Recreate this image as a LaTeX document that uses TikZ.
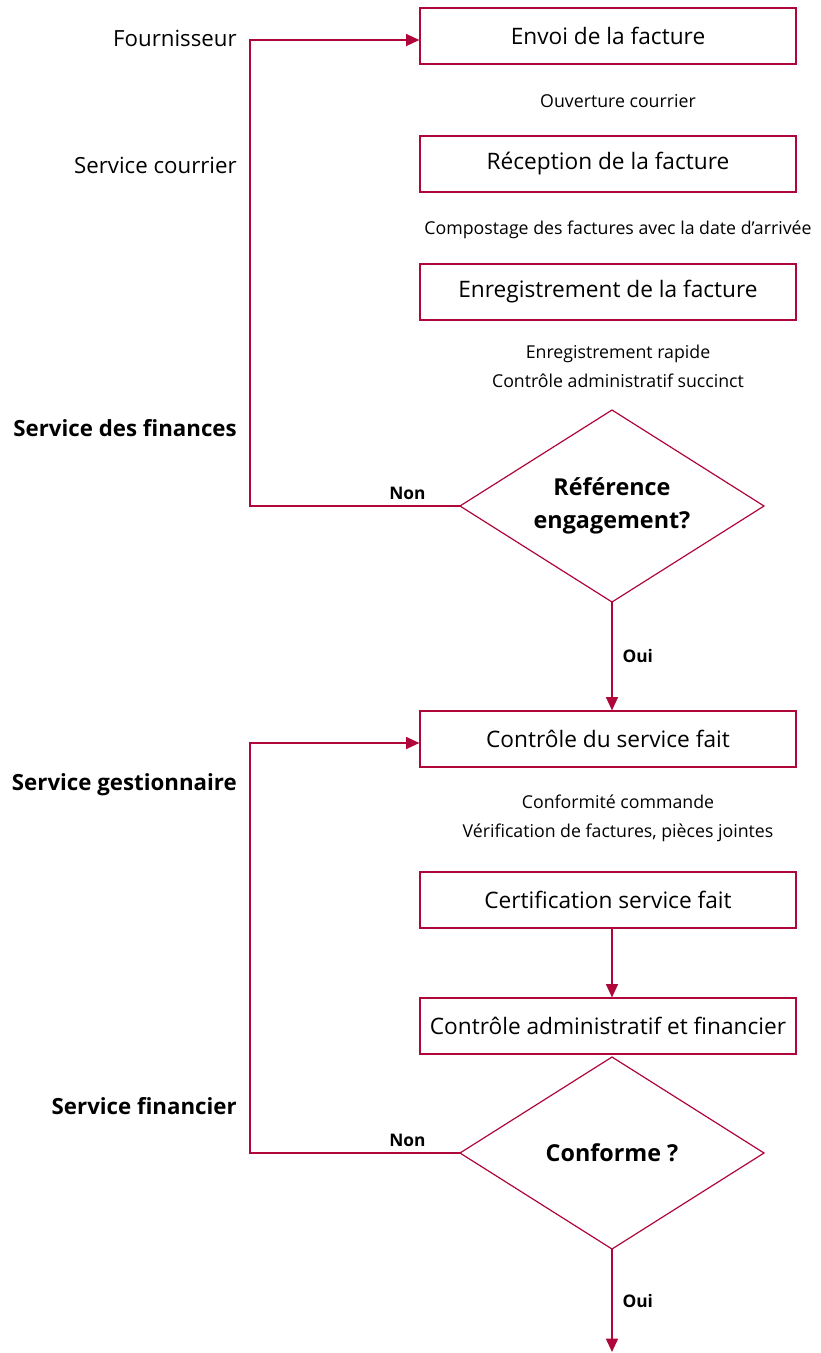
\documentclass[tikz,border=0pt]{standalone}
\usepackage{fontspec}
\setmainfont{Open Sans}
\usetikzlibrary{shapes.geometric,arrows.meta}
\definecolor{rouge}{HTML}{B0073A}

\begin{document}
\begin{tikzpicture}[x=0.75pt,y=-0.75pt,>={Triangle[length=10pt,width=9pt]},
  etape/.style={draw=rouge,line width=0.9pt,minimum width=282pt,minimum height=42pt,inner sep=0pt,font=\fontsize{17}{20}\selectfont},
  choix/.style={diamond,draw=rouge,line width=0.9pt,minimum width=228pt,minimum height=144pt,aspect=1.58,inner sep=0pt,outer sep=0pt,align=center,font=\fontsize{17.5}{25}\selectfont\bfseries},
  note/.style={font=\fontsize{13.3}{21.75}\selectfont,align=center},
  acteur/.style={anchor=east,inner sep=0pt,font=\fontsize{16.7}{20}\selectfont},
  lien/.style={draw=rouge,line width=1.1pt},
  rep/.style={font=\fontsize{13}{15}\selectfont\bfseries}]
  \useasboundingbox (0,0) rectangle (821,1353);
  % acteurs
  \node[acteur] (fourn) at (237,38) {Fournisseur};
  \node[acteur] (courrier) at (237,165) {Service courrier};
  \node[acteur,font=\fontsize{16.7}{20}\selectfont\bfseries] (finances) at (237,428) {Service des finances};
  \node[acteur,font=\fontsize{16.7}{20}\selectfont\bfseries] (gest) at (237,785) {Service gestionnaire};
  \node[acteur,font=\fontsize{16.7}{20}\selectfont\bfseries] (financier) at (237,1106) {Service financier};
  % etapes
  \node[etape] (envoi) at (608,36) {Envoi de la facture};
  \node[note] (n1) at (618,101) {Ouverture courrier};
  \node[etape] (recep) at (608,164) {Réception de la facture};
  \node[note] (n2) at (618,230) {Compostage des factures avec la date d’arrivée};
  \node[etape] (enreg) at (608,292) {Enregistrement de la facture};
  \node[note] (n3) at (618,366) {Enregistrement rapide\\Contrôle administratif succinct};
  \node[choix] (ref) at (612,506) {Référence\\engagement?};
  \node[etape] (csf) at (608,739) {Contrôle du service fait};
  \node[note] (n4) at (618,818) {Conformité commande\\Vérification de factures, pièces jointes};
  \node[etape] (cert) at (608,900) {Certification service fait};
  \node[etape] (caf) at (608,1026) {Contrôle administratif et financier};
  \node[choix] (conf) at (612,1153) {Conforme ?};
  \coordinate (fin) at (612,1352);
  % liens
  \draw[lien,->] (ref.west) -- node[rep,above=1pt,pos=0.25] {Non} ++(-210,0) |- ([yshift=-3pt]envoi.west);
  \draw[lien,->] (ref.south) -- node[rep,right=4pt] {Oui} (ref.south |- csf.north);
  \draw[lien,->] (cert.south -| ref.south) -- (caf.north -| ref.south);
  \draw[lien,->] (conf.west) -- node[rep,above=1pt,pos=0.25] {Non} ++(-210,0) |- ([yshift=-3pt]csf.west);
  \draw[lien,->] (conf.south) -- node[rep,right=4pt] {Oui} (fin);
\end{tikzpicture}
\end{document}
